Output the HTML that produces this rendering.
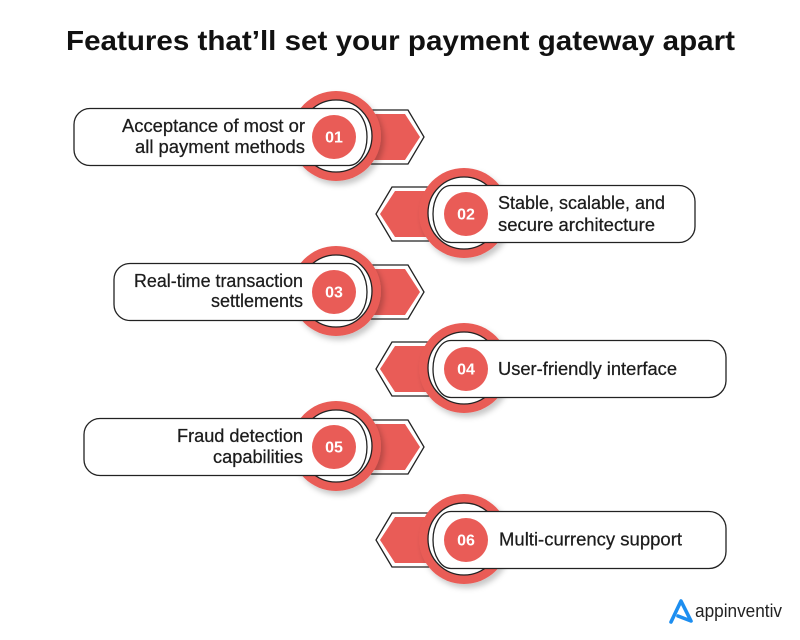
<!DOCTYPE html>
<html>
<head>
<meta charset="utf-8">
<style>
html,body{margin:0;padding:0;background:#fff;}
svg{display:block;}
.t{font-family:"Liberation Sans",Arial,sans-serif;font-size:18px;fill:#1c1c1c;stroke:#1c1c1c;stroke-width:0.25;}
.n{font-family:"Liberation Sans",Arial,sans-serif;font-size:16px;font-weight:bold;fill:#fff;}
.o{fill:#fff;stroke:#222;stroke-width:1.3;}
.r{fill:#e95c57;}
</style>
</head>
<body>
<svg width="800" height="640" viewBox="0 0 800 640" xmlns="http://www.w3.org/2000/svg">
<defs>
<filter id="sh" x="-30%" y="-30%" width="160%" height="160%">
<feDropShadow dx="3" dy="4" stdDeviation="3" flood-color="#000" flood-opacity="0.22"/>
</filter>
</defs>
<rect width="800" height="640" fill="#fff"/>
<text x="66" y="50" font-family="Liberation Sans, Arial, sans-serif" font-size="28" font-weight="bold" fill="#111" textLength="669" lengthAdjust="spacingAndGlyphs">Features that’ll set your payment gateway apart</text>

<!-- Item 1 cy=137 L=74 -->
<g>
<path class="o" d="M334,110 L408,110 L424,137 L408,164 L334,164 Z"/>
<path class="r" d="M334,114 L405,114 L420,137 L405,160 L334,160 Z"/>
<circle class="r" cx="336" cy="136" r="45" filter="url(#sh)"/>
<circle class="o" cx="336" cy="136" r="36"/>
<path class="o" d="M90,108.5 L349,108.5 A18,28.5 0 0 1 349,165.5 L90,165.5 A16,16 0 0 1 74,149.5 L74,124.5 A16,16 0 0 1 90,108.5 Z"/>
<circle class="r" cx="334" cy="137" r="22"/>
<text class="n" x="334" y="142.5" text-anchor="middle">01</text>
<text class="t" x="305" y="132" text-anchor="end" textLength="183" lengthAdjust="spacingAndGlyphs">Acceptance of most or</text>
<text class="t" x="305" y="153" text-anchor="end" textLength="170" lengthAdjust="spacingAndGlyphs">all payment methods</text>
</g>

<!-- Item 2 cy=214 R=695 -->
<g>
<path class="o" d="M466,187 L392,187 L376,214 L392,241 L466,241 Z"/>
<path class="r" d="M466,191 L395,191 L380,214 L395,237 L466,237 Z"/>
<circle class="r" cx="464" cy="213" r="45" filter="url(#sh)"/>
<circle class="o" cx="464" cy="213" r="36"/>
<path class="o" d="M679,185.5 L451,185.5 A18,28.5 0 0 0 451,242.5 L679,242.5 A16,16 0 0 0 695,226.5 L695,201.5 A16,16 0 0 0 679,185.5 Z"/>
<circle class="r" cx="466" cy="214" r="22"/>
<text class="n" x="466" y="219.5" text-anchor="middle">02</text>
<text class="t" x="498" y="209" textLength="167" lengthAdjust="spacingAndGlyphs">Stable, scalable, and</text>
<text class="t" x="498" y="231" textLength="157" lengthAdjust="spacingAndGlyphs">secure architecture</text>
</g>

<!-- Item 3 cy=292 L=114 -->
<g>
<path class="o" d="M334,265 L408,265 L424,292 L408,319 L334,319 Z"/>
<path class="r" d="M334,269 L405,269 L420,292 L405,315 L334,315 Z"/>
<circle class="r" cx="336" cy="291" r="45" filter="url(#sh)"/>
<circle class="o" cx="336" cy="291" r="36"/>
<path class="o" d="M130,263.5 L349,263.5 A18,28.5 0 0 1 349,320.5 L130,320.5 A16,16 0 0 1 114,304.5 L114,279.5 A16,16 0 0 1 130,263.5 Z"/>
<circle class="r" cx="334" cy="292" r="22"/>
<text class="n" x="334" y="297.5" text-anchor="middle">03</text>
<text class="t" x="303" y="287" text-anchor="end" textLength="169" lengthAdjust="spacingAndGlyphs">Real-time transaction</text>
<text class="t" x="303" y="307" text-anchor="end" textLength="92" lengthAdjust="spacingAndGlyphs">settlements</text>
</g>

<!-- Item 4 cy=369 R=726 -->
<g>
<path class="o" d="M466,342 L392,342 L376,369 L392,396 L466,396 Z"/>
<path class="r" d="M466,346 L395,346 L380,369 L395,392 L466,392 Z"/>
<circle class="r" cx="464" cy="368" r="45" filter="url(#sh)"/>
<circle class="o" cx="464" cy="368" r="36"/>
<path class="o" d="M709,340.5 L451,340.5 A18,28.5 0 0 0 451,397.5 L709,397.5 A17,17 0 0 0 726,380.5 L726,357.5 A17,17 0 0 0 709,340.5 Z"/>
<circle class="r" cx="466" cy="369" r="22"/>
<text class="n" x="466" y="374.5" text-anchor="middle">04</text>
<text class="t" x="498" y="375" textLength="179" lengthAdjust="spacingAndGlyphs">User-friendly interface</text>
</g>

<!-- Item 5 cy=447 L=84 -->
<g>
<path class="o" d="M334,420 L408,420 L424,447 L408,474 L334,474 Z"/>
<path class="r" d="M334,424 L405,424 L420,447 L405,470 L334,470 Z"/>
<circle class="r" cx="336" cy="446" r="45" filter="url(#sh)"/>
<circle class="o" cx="336" cy="446" r="36"/>
<path class="o" d="M100,418.5 L349,418.5 A18,28.5 0 0 1 349,475.5 L100,475.5 A16,16 0 0 1 84,459.5 L84,434.5 A16,16 0 0 1 100,418.5 Z"/>
<circle class="r" cx="334" cy="447" r="22"/>
<text class="n" x="334" y="452.5" text-anchor="middle">05</text>
<text class="t" x="303" y="442" text-anchor="end" textLength="126" lengthAdjust="spacingAndGlyphs">Fraud detection</text>
<text class="t" x="303" y="463" text-anchor="end" textLength="90" lengthAdjust="spacingAndGlyphs">capabilities</text>
</g>

<!-- Item 6 cy=540 R=726 -->
<g>
<path class="o" d="M466,513 L392,513 L376,540 L392,567 L466,567 Z"/>
<path class="r" d="M466,517 L395,517 L380,540 L395,563 L466,563 Z"/>
<circle class="r" cx="464" cy="539" r="45" filter="url(#sh)"/>
<circle class="o" cx="464" cy="539" r="36"/>
<path class="o" d="M709,511.5 L451,511.5 A18,28.5 0 0 0 451,568.5 L709,568.5 A17,17 0 0 0 726,551.5 L726,528.5 A17,17 0 0 0 709,511.5 Z"/>
<circle class="r" cx="466" cy="540" r="22"/>
<text class="n" x="466" y="545.5" text-anchor="middle">06</text>
<text class="t" x="499" y="545.5" textLength="183" lengthAdjust="spacingAndGlyphs">Multi-currency support</text>
</g>

<!-- Logo -->
<path d="M671,622 L681,601 L691,621 L678,616" fill="none" stroke="#1d8ef0" stroke-width="3.6" stroke-linejoin="round" stroke-linecap="round"/>
<text x="695" y="617" font-family="Liberation Sans, Arial, sans-serif" font-size="18" fill="#222" textLength="87" lengthAdjust="spacingAndGlyphs">appinventiv</text>
</svg>
</body>
</html>
